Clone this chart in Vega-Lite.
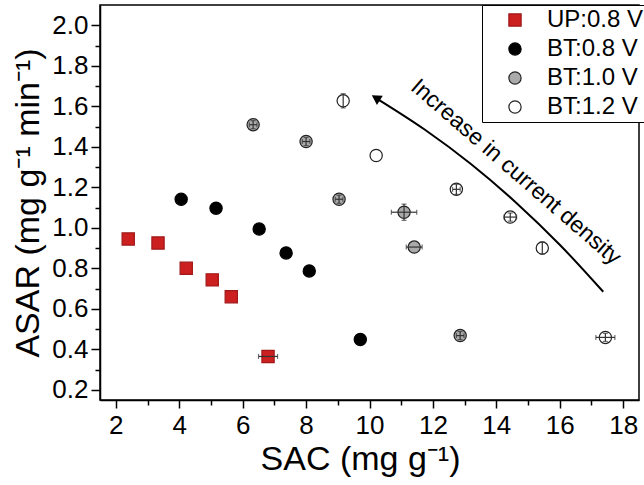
{
  "$schema": "https://vega.github.io/schema/vega-lite/v6.json",
  "width": 539,
  "height": 395,
  "autosize": {"type": "none"},
  "padding": {"left": 100, "top": 5, "right": 5, "bottom": 85},
  "background": "white",
  "config": {
    "font": "Liberation Sans",
    "view": {"stroke": "black", "strokeWidth": 1.5},
    "axis": {
      "grid": false,
      "domainColor": "black",
      "domainWidth": 1.5,
      "tickColor": "black",
      "tickWidth": 1.5,
      "labelColor": "black",
      "titleColor": "black",
      "titleFontWeight": "normal"
    }
  },
  "datasets": {
    "pts": [
      {"series": "UP:0.8 V", "x": 2.39, "y": 0.945, "xe": 0, "ye": 0},
      {"series": "UP:0.8 V", "x": 3.33, "y": 0.925, "xe": 0, "ye": 0},
      {"series": "UP:0.8 V", "x": 4.22, "y": 0.8, "xe": 0, "ye": 0},
      {"series": "UP:0.8 V", "x": 5.04, "y": 0.743, "xe": 0, "ye": 0},
      {"series": "UP:0.8 V", "x": 5.64, "y": 0.66, "xe": 0, "ye": 0},
      {"series": "UP:0.8 V", "x": 6.8, "y": 0.365, "xe": 0.3, "ye": 0},
      {"series": "BT:0.8 V", "x": 4.06, "y": 1.141, "xe": 0, "ye": 0},
      {"series": "BT:0.8 V", "x": 5.16, "y": 1.097, "xe": 0, "ye": 0},
      {"series": "BT:0.8 V", "x": 6.52, "y": 0.994, "xe": 0, "ye": 0},
      {"series": "BT:0.8 V", "x": 7.37, "y": 0.876, "xe": 0, "ye": 0},
      {"series": "BT:0.8 V", "x": 8.1, "y": 0.787, "xe": 0, "ye": 0},
      {"series": "BT:0.8 V", "x": 9.71, "y": 0.449, "xe": 0, "ye": 0},
      {"series": "BT:1.0 V", "x": 6.33, "y": 1.509, "xe": 0.12, "ye": 0.02},
      {"series": "BT:1.0 V", "x": 8.0, "y": 1.426, "xe": 0.12, "ye": 0.02},
      {"series": "BT:1.0 V", "x": 9.04, "y": 1.141, "xe": 0.12, "ye": 0.02},
      {"series": "BT:1.0 V", "x": 11.09, "y": 1.077, "xe": 0.4, "ye": 0.04},
      {"series": "BT:1.0 V", "x": 11.41, "y": 0.905, "xe": 0.25, "ye": 0},
      {"series": "BT:1.0 V", "x": 12.86, "y": 0.468, "xe": 0.12, "ye": 0.02},
      {"series": "BT:1.2 V", "x": 9.17, "y": 1.627, "xe": 0, "ye": 0.035},
      {"series": "BT:1.2 V", "x": 10.21, "y": 1.357, "xe": 0, "ye": 0},
      {"series": "BT:1.2 V", "x": 12.74, "y": 1.19, "xe": 0.12, "ye": 0.025},
      {"series": "BT:1.2 V", "x": 14.44, "y": 1.053, "xe": 0.2, "ye": 0.02},
      {"series": "BT:1.2 V", "x": 15.45, "y": 0.9, "xe": 0, "ye": 0.03},
      {"series": "BT:1.2 V", "x": 17.44, "y": 0.459, "xe": 0.3, "ye": 0.02}
    ],
    "arrow": [
      {"x": 10.243, "y": 1.637},
      {"x": 11.738, "y": 1.4855},
      {"x": 13.199, "y": 1.3152},
      {"x": 14.625, "y": 1.1242},
      {"x": 16.016, "y": 0.9141},
      {"x": 17.372, "y": 0.6843}
    ],
    "head": [{"x": 10.2, "y": 1.642}],
    "note": [{"x": 14.62, "y": 1.275, "label": "Increase in current density"}]
  },
  "layer": [
    {
      "encoding": {
        "x": {
          "field": "x",
          "type": "quantitative",
          "scale": {"domain": [1.5, 18.5], "nice": false, "zero": false},
          "axis": {
            "values": [2, 4, 6, 8, 10, 12, 14, 16, 18],
            "title": "SAC (mg g⁻¹)",
            "labelFontSize": 26,
            "titleFontSize": 34,
            "tickSize": 8,
            "labelPadding": 4,
            "titlePadding": 4,
            "titleX": 260,
            "labelFlush": false
          }
        },
        "y": {
          "field": "y",
          "type": "quantitative",
          "scale": {"domain": [0.15, 2.1], "nice": false, "zero": false},
          "axis": {
            "values": [0.2, 0.4, 0.6, 0.8, 1.0, 1.2, 1.4, 1.6, 1.8, 2.0],
            "format": ".1f",
            "title": "ASAR (mg g⁻¹ min⁻¹)",
            "labelFontSize": 26,
            "titleFontSize": 34,
            "tickSize": 9,
            "labelPadding": 3,
            "titlePadding": 6,
            "labelFlush": false
          }
        }
      },
      "layer": [
        {
          "data": {"name": "pts"},
          "mark": {"type": "point", "filled": true, "size": 150, "strokeWidth": 1.2, "opacity": 1},
          "encoding": {
            "shape": {
              "field": "series",
              "type": "nominal",
              "sort": ["UP:0.8 V", "BT:0.8 V", "BT:1.0 V", "BT:1.2 V"],
              "scale": {"domain": ["UP:0.8 V", "BT:0.8 V", "BT:1.0 V", "BT:1.2 V"], "range": ["square", "circle", "circle", "circle"]},
              "legend": {
                "orient": "none",
                "legendX": 382,
                "legendY": 0,
                "title": null,
                "strokeColor": "black",
                "fillColor": "white",
                "padding": 3,
                "symbolOffset": 18,
                "labelFontSize": 24,
                "labelColor": "black",
                "labelOffset": 20,
                "rowPadding": 5,
                "symbolSize": 150,
                "symbolStrokeWidth": 1.2
              }
            },
            "fill": {
              "field": "series",
              "type": "nominal",
              "scale": {"domain": ["UP:0.8 V", "BT:0.8 V", "BT:1.0 V", "BT:1.2 V"], "range": ["#cc1f1f", "#000000", "#aaaaaa", "#ffffff"]}
            },
            "stroke": {
              "field": "series",
              "type": "nominal",
              "scale": {"domain": ["UP:0.8 V", "BT:0.8 V", "BT:1.0 V", "BT:1.2 V"], "range": ["#a01818", "#000000", "#222222", "#222222"]}
            }
          }
        },
        {
          "data": {"name": "pts"},
          "transform": [{"filter": "datum.xe > 0"}],
          "mark": {"type": "errorbar", "ticks": true, "color": "#333333", "thickness": 1.2},
          "encoding": {
            "xError": {"field": "xe"}
          }
        },
        {
          "data": {"name": "pts"},
          "transform": [{"filter": "datum.ye > 0"}],
          "mark": {"type": "errorbar", "ticks": true, "color": "#333333", "thickness": 1.2},
          "encoding": {
            "yError": {"field": "ye"}
          }
        },
        {
          "data": {"name": "arrow"},
          "mark": {"type": "line", "interpolate": "monotone", "color": "black", "strokeWidth": 2},
          "encoding": {}
        },
        {
          "data": {"name": "head"},
          "mark": {"type": "point", "shape": "triangle-up", "filled": true, "color": "black", "size": 120, "angle": 302, "opacity": 1},
          "encoding": {}
        },
        {
          "data": {"name": "note"},
          "mark": {"type": "text", "angle": 41, "fontSize": 23, "align": "center", "baseline": "middle", "color": "black"},
          "encoding": {"text": {"field": "label"}}
        }
      ]
    },
    {
      "data": {"name": "pts"},
      "mark": {"type": "point", "opacity": 0},
      "encoding": {
        "x": {
          "field": "x",
          "type": "quantitative",
          "scale": {"domain": [1.5, 18.5], "nice": false, "zero": false},
          "axis": {"orient": "bottom", "values": [3, 5, 7, 9, 11, 13, 15, 17], "labels": false, "domain": false, "tickSize": 5, "title": null}
        },
        "y": {
          "field": "y",
          "type": "quantitative",
          "scale": {"domain": [0.15, 2.1], "nice": false, "zero": false},
          "axis": {"orient": "left", "values": [0.3, 0.5, 0.7, 0.9, 1.1, 1.3, 1.5, 1.7, 1.9], "labels": false, "domain": false, "tickSize": 5, "title": null}
        }
      }
    }
  ],
  "resolve": {"axis": {"x": "independent", "y": "independent"}}
}
